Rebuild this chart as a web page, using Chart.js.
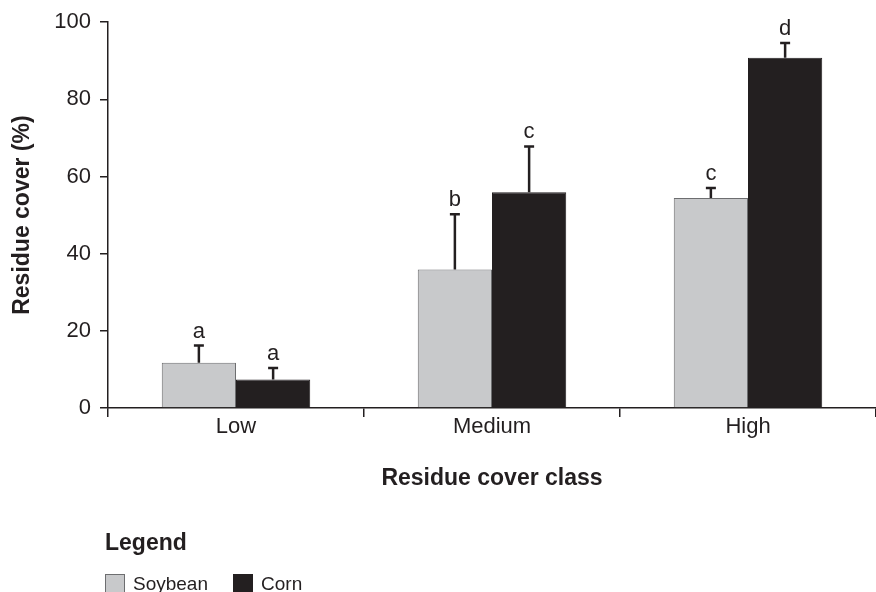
<!DOCTYPE html>
<html lang="en">
<head>
  <meta charset="UTF-8">
  <title>Residue cover by class</title>
  <script src="https://cdn.jsdelivr.net/npm/chart.js"></script>
  <style>
    body { margin: 0; background: #fff; }
    #wrap { position: relative; width: 876px; height: 592px; }
    #legend { position: absolute; left: 105px; top: 528px; font-family: "Liberation Sans", Arial, sans-serif; color: #231f20; }
    #legend h3 { margin: 0 0 17px 0; font-size: 23px; font-weight: bold; line-height: 28px; }
    #legend .row { display: flex; align-items: center; font-size: 19px; }
    #legend .box { width: 20px; height: 20px; box-sizing: border-box; margin-right: 8px; }
    #legend .item { display: flex; align-items: center; margin-right: 25px; }
  </style>
</head>
<body>
<div id="wrap">
  <canvas id="residueChart" width="876" height="592"></canvas>
  <div id="legend"><h3>Legend</h3><div class="row" id="legendRow"></div></div>
</div>

<script>
  // values
  const classes = ['Low', 'Medium', 'High'];
  const soybean = [11.7, 35.9, 54.4];
  const soybeanErr = [4.5, 14.3, 2.6];   // upper error bar only
  const soybeanLetters = ['a', 'b', 'c'];
  const corn = [7.4, 55.9, 90.8];
  const cornErr = [3.0, 11.9, 3.8];
  const cornLetters = ['a', 'c', 'd'];

  const ink = '#231f20';
  const FONT = '"Liberation Sans", Arial, sans-serif';

  // draws the error whiskers and significance letters above each bar
  const errorBars = {
    id: 'errorBars',
    afterDatasetsDraw(chart) {
      const ctx = chart.ctx;
      const y = chart.scales.y;
      chart.data.datasets.forEach((ds, i) => {
        const meta = chart.getDatasetMeta(i);
        meta.data.forEach((bar, j) => {
          const top = y.getPixelForValue(ds.data[j] + ds.err[j]);
          ctx.save();
          ctx.strokeStyle = ink;
          ctx.lineWidth = 2.5;
          ctx.beginPath();
          ctx.moveTo(bar.x, bar.y);
          ctx.lineTo(bar.x, top);
          ctx.moveTo(bar.x - 5, top);
          ctx.lineTo(bar.x + 5, top);
          ctx.stroke();
          ctx.fillStyle = ink;
          ctx.font = '22px ' + FONT;
          ctx.textAlign = 'center';
          ctx.textBaseline = 'alphabetic';
          ctx.fillText(ds.letters[j], bar.x, top - 8);
          ctx.restore();
        });
      });
    }
  };

  const chart = new Chart(document.getElementById('residueChart'), {
    type: 'bar',
    data: {
      labels: classes,
      datasets: [
        { label: 'Soybean', data: soybean, err: soybeanErr, letters: soybeanLetters,
          backgroundColor: '#c8c9cb', borderColor: '#6d6e70', borderWidth: 1 },
        { label: 'Corn', data: corn, err: cornErr, letters: cornLetters,
          backgroundColor: ink, borderColor: ink, borderWidth: 1 }
      ]
    },
    options: {
      responsive: false,
      animation: false,
      layout: { padding: { top: 22, right: 0, bottom: 94, left: 0 } },
      datasets: { bar: { categoryPercentage: 0.58, barPercentage: 1.0 } },
      plugins: { legend: { display: false }, tooltip: { enabled: false } },
      scales: {
        x: {
          afterFit: s => { s.height = 90; },
          border: { color: ink, width: 1.5 },
          grid: { drawOnChartArea: false, drawTicks: true, tickLength: 9, color: ink, lineWidth: 1.5 },
          ticks: { color: ink, font: { family: FONT, size: 22 }, padding: -3 },
          title: { display: true, text: 'Residue cover class', color: ink,
                   font: { family: FONT, size: 23, weight: 'bold' }, padding: { top: 0, bottom: 6 } }
        },
        y: {
          min: 0, max: 100,
          afterFit: s => { s.width = 108; },
          border: { color: ink, width: 1.5 },
          grid: { drawOnChartArea: false, drawTicks: true, tickLength: 8, color: ink, lineWidth: 1.5 },
          ticks: { stepSize: 20, color: ink, font: { family: FONT, size: 22 }, padding: 9 },
          title: { display: true, text: 'Residue cover (%)', color: ink,
                   font: { family: FONT, size: 23, weight: 'bold' }, padding: { top: 9, bottom: 0 } }
        }
      }
    },
    plugins: [errorBars]
  });

  // legend built from the datasets
  const row = document.getElementById('legendRow');
  chart.data.datasets.forEach(ds => {
    const item = document.createElement('span');
    item.className = 'item';
    item.innerHTML = '<span class="box" style="background:' + ds.backgroundColor +
      ';border:1px solid ' + ds.borderColor + '"></span>' + ds.label;
    row.appendChild(item);
  });
</script>
</body>
</html>
